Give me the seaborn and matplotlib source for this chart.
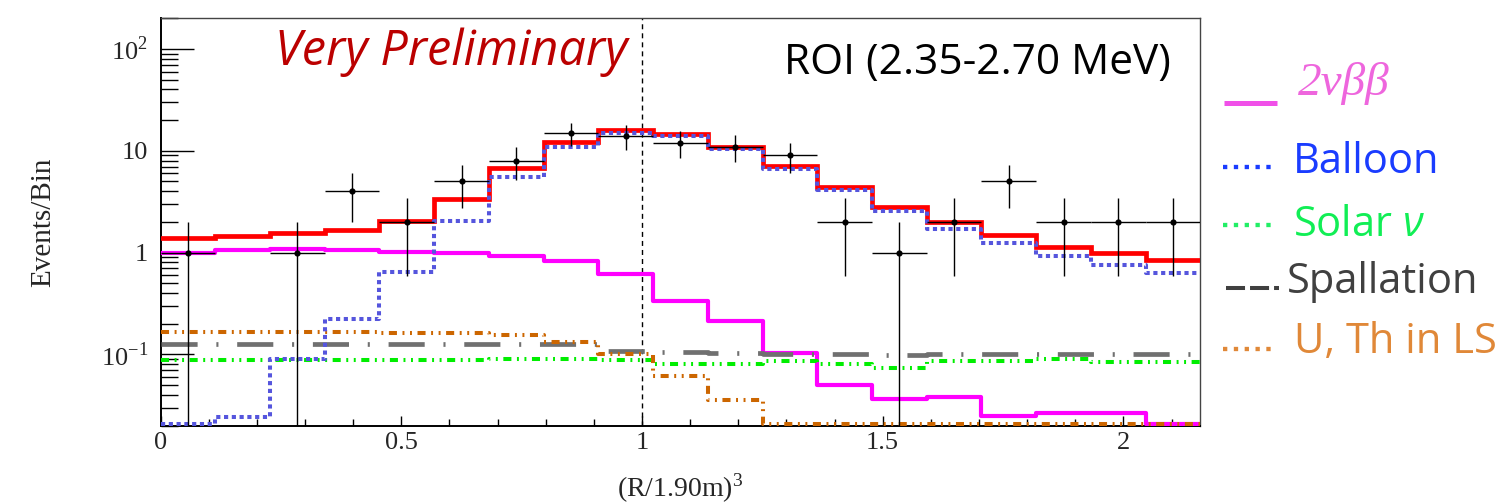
import numpy as np
import matplotlib
matplotlib.use("Agg")
import matplotlib.pyplot as plt
import seaborn as sns
from matplotlib.lines import Line2D
from matplotlib.ticker import FixedLocator, FixedFormatter, LogLocator, MultipleLocator, NullFormatter

# ---------------- data ----------------
x_lo, x_hi, n_bins = 0.0, 2.16, 19
total = [1.38, 1.47, 1.56, 1.66, 2.04, 3.36, 6.76, 12.2, 16.1, 14.7,
         11.0, 7.13, 4.40, 2.80, 1.98, 1.49, 1.14, 0.98, 0.84]
two_nu_bb = [1.0, 1.07, 1.086, 1.05, 1.02, 0.98, 0.935, 0.82, 0.61, 0.338,
             0.212, 0.102, 0.0497, 0.0367, 0.0382, 0.0249, 0.0264, 0.0268, 0.0205]
balloon = [0.0205, 0.0245, 0.0893, 0.224, 0.641, 2.03, 5.48, 11.0, 15.1, 14.0,
           10.4, 6.61, 4.08, 2.56, 1.71, 1.24, 0.93, 0.75, 0.63]
solar = [0.088, 0.088, 0.088, 0.088, 0.088, 0.088, 0.090, 0.090, 0.088, 0.080,
         0.081, 0.086, 0.080, 0.074, 0.086, 0.086, 0.089, 0.084, 0.084]
spallation = [0.127, 0.127, 0.127, 0.127, 0.127, 0.127, 0.127, 0.127, 0.109, 0.105,
              0.104, 0.101, 0.101, 0.099, 0.100, 0.100, 0.101, 0.100, 0.100]
u_th = [0.166, 0.167, 0.166, 0.166, 0.163, 0.161, 0.154, 0.132, 0.100, 0.061,
        0.0354, 0.0205, 0.0205, 0.0205, 0.0205, 0.0205, 0.0205, 0.0205, 0.0205]
data_counts = [1, 0, 1, 4, 2, 5, 8, 15, 14, 12, 11, 9, 2, 1, 2, 5, 2, 2, 2]

x_ticks = [0, 0.5, 1, 1.5, 2]
x_tick_labels = ["0", "0.5", "1", "1.5", "2"]
y_ticks = [0.1, 1, 10, 100]
y_tick_labels = ["$10^{-1}$", "1", "10", "$10^{2}$"]

legend_labels = ["2νββ", "Balloon", "Solar $\\nu$", "Spallation", "U, Th in LS"]

# ---------------- style ----------------
sns.set_theme(style="ticks")
plt.rcParams["font.family"] = ["Liberation Serif", "DejaVu Serif"]
plt.rcParams["mathtext.fontset"] = "custom"
plt.rcParams["mathtext.rm"] = "Liberation Serif"
plt.rcParams["mathtext.it"] = "Open Sans:italic"
plt.rcParams["lines.scale_dashes"] = False
plt.rcParams["axes.facecolor"] = "white"

W, H = 1497, 504
fig = plt.figure(figsize=(W / 100, H / 100), dpi=100)
ax = fig.add_axes([160.5 / W, 1 - 425.5 / H, (1200.4 - 160.5) / W, (425.5 - 18.3) / H])

edges = np.linspace(x_lo, x_hi, n_bins + 1)
centers = 0.5 * (edges[:-1] + edges[1:])
half = 0.5 * (edges[1] - edges[0])


def step(vals, **kw):
    y = np.append(np.asarray(vals, float), vals[-1])
    sns.lineplot(x=edges, y=y, drawstyle="steps-post", estimator=None,
                 sort=False, ax=ax, **kw)


step(total, color="#ff0000", linewidth=3.4, zorder=3, solid_joinstyle="miter")
step(two_nu_bb, color="#ff00ff", linewidth=3.0, zorder=4)
step(balloon, color="#5555dd", linewidth=2.9, linestyle=(0, (3.0, 2.6)), zorder=5)
step(solar, color="#00ee00", linewidth=2.9,
     linestyle=(0, (5.8, 4.0, 1.4, 4.0, 1.4, 4.0)), zorder=4)
step(spallation, color="#707070", linewidth=3.4,
     linestyle=(0, (26, 13.5, 1.5, 13.5)), zorder=4)
step(u_th, color="#cc6600", linewidth=2.9,
     linestyle=(0, (5.8, 4.0, 1.4, 4.0, 1.4, 4.0)), zorder=4)

counts = np.asarray(data_counts, float)
m = counts > 0
err = np.sqrt(counts[m])
low = np.minimum(err, counts[m] - 1e-4)
ax.errorbar(centers[m], counts[m], xerr=half, yerr=[low, err], fmt="none",
            ecolor="black", elinewidth=1.0, capsize=0, zorder=9)
sns.scatterplot(x=centers[m], y=counts[m], color="black", s=20, linewidth=0,
                zorder=10, ax=ax)

ax.axvline(1.0, color="black", linewidth=1.0, linestyle=(0, (3.6, 2.9)), zorder=2)

ax.set_yscale("log")
ax.set_xlim(x_lo, x_hi)
ax.set_ylim(0.02, 200)

ax.xaxis.set_major_locator(FixedLocator(x_ticks))
ax.xaxis.set_major_formatter(FixedFormatter(x_tick_labels))
ax.xaxis.set_minor_locator(MultipleLocator(0.1))
ax.yaxis.set_major_locator(FixedLocator(y_ticks))
ax.yaxis.set_major_formatter(FixedFormatter(y_tick_labels))
ax.yaxis.set_minor_locator(LogLocator(base=10, subs=np.arange(2, 10)))
ax.yaxis.set_minor_formatter(NullFormatter())

ax.tick_params(axis="both", which="both", direction="in", width=1.0,
               color="black", top=False, right=False)
ax.tick_params(axis="x", which="major", length=7.2, pad=5, labelsize=19)
ax.tick_params(axis="x", which="minor", length=5)
ax.tick_params(axis="y", which="major", length=24, pad=9, labelsize=19)
ax.tick_params(axis="y", which="minor", length=12)
for side in ["left", "bottom"]:
    ax.spines[side].set_linewidth(1.4)
    ax.spines[side].set_color("black")
for side in ["top", "right"]:
    ax.spines[side].set_linewidth(1.0)
    ax.spines[side].set_color("#444444")

ax.set_xlabel("(R/1.90m)$^{3}$", fontsize=20, labelpad=12)
ax.set_ylabel("Events/Bin", fontsize=21, labelpad=32)


def ftext(x, y, s, **kw):
    fig.text(x / W, 1 - y / H, s, va="baseline", ha="left", **kw)


ftext(275, 65, "Very Preliminary", color="#bb0000", fontsize=35,
      family="Open Sans", style="italic")
ftext(784, 74, "ROI (2.35-2.70 MeV)", color="black", fontsize=30.5, family="Open Sans")

# legend (outside right)
def fline(x1, x2, y, **kw):
    fig.add_artist(Line2D([x1 / W, x2 / W], [1 - y / H, 1 - y / H],
                          transform=fig.transFigure, solid_capstyle="butt",
                          dash_capstyle="butt", **kw))


fline(1224, 1277, 103.5, color="#f050e8", linewidth=3.6)
ftext(1298, 95, legend_labels[0], color="#ee66dd", fontsize=34,
      family="Liberation Serif", style="italic")
fline(1223, 1274, 166.7, color="#1a3cff", linewidth=3.1, linestyle=(0, (3.1, 4.7)))
ftext(1293, 173.3, legend_labels[1], color="#1a3cff", fontsize=30, family="Open Sans")
fline(1223, 1274, 225, color="#22ee66", linewidth=3.1, linestyle=(0, (3.1, 4.7)))
ftext(1293, 236, legend_labels[2], color="#11ee55", fontsize=30, family="Open Sans")
fline(1226, 1279, 288, color="#404040", linewidth=2.9, linestyle=(0, (13.7, 3.6)))
ftext(1287, 293.3, legend_labels[3], color="#404040", fontsize=30, family="Open Sans")
fline(1223, 1274, 349, color="#e08838", linewidth=3.1, linestyle=(0, (3.1, 4.7)))
ftext(1294, 353.3, legend_labels[4], color="#e08838", fontsize=30, family="Open Sans")

fig.savefig("out.png", dpi=100, facecolor="white")
